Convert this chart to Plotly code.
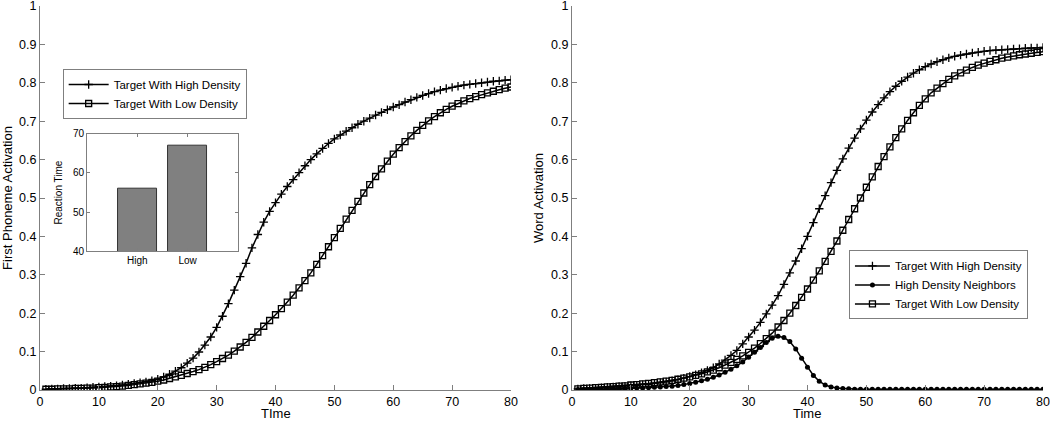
import plotly.graph_objects as go

# time steps
time_steps = list(range(1, 81))

# left panel: first phoneme activation
phoneme_high = [
    0.002, 0.003, 0.003, 0.004, 0.004, 0.005, 0.005, 0.006, 0.007,
    0.008, 0.009, 0.010, 0.011, 0.013, 0.015, 0.017, 0.019, 0.021, 0.024,
    0.028, 0.034, 0.041, 0.049, 0.058, 0.070, 0.083, 0.099, 0.117, 0.138,
    0.163, 0.192, 0.225, 0.260, 0.295, 0.330, 0.370, 0.405, 0.437, 0.465,
    0.488, 0.510, 0.530, 0.548, 0.566, 0.584, 0.600, 0.615, 0.629, 0.642,
    0.654, 0.664, 0.674, 0.683, 0.692, 0.700, 0.708, 0.716, 0.723, 0.730,
    0.737, 0.743, 0.750, 0.756, 0.762, 0.767, 0.772, 0.777, 0.781, 0.785,
    0.788, 0.791, 0.794, 0.796, 0.798, 0.800, 0.802, 0.804, 0.805, 0.807,
    0.808,
]
phoneme_low = [
    0.002, 0.002, 0.003, 0.003, 0.003, 0.004, 0.004, 0.005, 0.005,
    0.006, 0.007, 0.008, 0.009, 0.010, 0.012, 0.014, 0.016, 0.018, 0.020,
    0.023, 0.026, 0.030, 0.034, 0.038, 0.043, 0.048, 0.053, 0.059, 0.066,
    0.074, 0.082, 0.091, 0.101, 0.112, 0.124, 0.137, 0.151, 0.166, 0.181,
    0.196, 0.212, 0.229, 0.247, 0.266, 0.285, 0.305, 0.327, 0.350, 0.373,
    0.397, 0.421, 0.445, 0.468, 0.491, 0.513, 0.535, 0.556, 0.576, 0.596,
    0.614, 0.631, 0.647, 0.662, 0.676, 0.689, 0.701, 0.712, 0.722, 0.731,
    0.739, 0.746, 0.753, 0.759, 0.764, 0.769, 0.774, 0.778, 0.782, 0.786,
    0.789,
]

# right panel: word activation
word_high = [
    0.003, 0.004, 0.004, 0.005, 0.006, 0.007, 0.008, 0.009, 0.010, 0.011,
    0.012, 0.014, 0.015, 0.017, 0.019, 0.021, 0.024, 0.027, 0.031, 0.035,
    0.040, 0.045, 0.051, 0.058, 0.068, 0.078, 0.090, 0.103, 0.120, 0.138,
    0.156, 0.176, 0.198, 0.221, 0.246, 0.275, 0.305, 0.336, 0.368, 0.400,
    0.436, 0.472, 0.506, 0.540, 0.572, 0.602, 0.630, 0.656, 0.680, 0.703,
    0.724, 0.743, 0.761, 0.777, 0.791, 0.804, 0.815, 0.825, 0.834, 0.842,
    0.849, 0.855, 0.860, 0.865, 0.869, 0.872, 0.875, 0.878, 0.880, 0.882,
    0.884, 0.885, 0.886, 0.887, 0.888, 0.889, 0.890, 0.891, 0.891, 0.892,
]
word_neighbors = [
    0.001, 0.001, 0.001, 0.002, 0.002, 0.002, 0.003, 0.003, 0.004, 0.004,
    0.005, 0.005, 0.006, 0.007, 0.008, 0.009, 0.010, 0.012, 0.014, 0.017,
    0.020, 0.024, 0.028, 0.033, 0.039, 0.046, 0.054, 0.063, 0.073, 0.085,
    0.098, 0.111, 0.124, 0.135, 0.140, 0.137, 0.126, 0.107, 0.083, 0.059,
    0.038, 0.023, 0.013, 0.008, 0.005, 0.004, 0.003, 0.002, 0.002, 0.002,
    0.002, 0.002, 0.002, 0.002, 0.002, 0.002, 0.002, 0.002, 0.002, 0.002,
    0.002, 0.002, 0.002, 0.002, 0.002, 0.002, 0.002, 0.002, 0.002, 0.002,
    0.002, 0.002, 0.002, 0.002, 0.002, 0.002, 0.002, 0.002, 0.002, 0.002,
]
word_low = [
    0.003, 0.004, 0.005, 0.006, 0.007, 0.008, 0.009, 0.010, 0.011, 0.013,
    0.014, 0.016, 0.017, 0.019, 0.021, 0.023, 0.025, 0.028, 0.031, 0.034,
    0.038, 0.042, 0.047, 0.052, 0.058, 0.065, 0.072, 0.080, 0.089, 0.098,
    0.109, 0.121, 0.134, 0.148, 0.164, 0.181, 0.200, 0.220, 0.241, 0.263,
    0.286, 0.310, 0.335, 0.361, 0.388, 0.416, 0.444, 0.472, 0.500, 0.528,
    0.555, 0.582, 0.608, 0.633, 0.657, 0.680, 0.702, 0.722, 0.741, 0.758,
    0.774, 0.786, 0.798, 0.809, 0.818, 0.826, 0.833, 0.840, 0.846, 0.851,
    0.856, 0.860, 0.864, 0.867, 0.870, 0.873, 0.875, 0.877, 0.879, 0.881,
]

# inset: reaction times
rt_labels = ["High", "Low"]
rt_pos = [1, 2]
rt_values = [56, 67]

FONT = "Liberation Sans, Arial, sans-serif"
AX = "#7f7f7f"

fig = go.Figure()

plus = dict(symbol="cross-thin", size=6, line=dict(width=1.3, color="black"), color="black")
square = dict(symbol="square-open", size=6, line=dict(width=1.3, color="black"), color="black")
dot = dict(symbol="circle", size=5, color="black")
line = dict(color="black", width=1.5)

fig.add_trace(go.Scatter(x=time_steps, y=phoneme_high, mode="lines+markers", name="Target With High Density",
                         line=line, marker=plus, xaxis="x", yaxis="y", legend="legend"))
fig.add_trace(go.Scatter(x=time_steps, y=phoneme_low, mode="lines+markers", name="Target With Low Density",
                         line=line, marker=square, xaxis="x", yaxis="y", legend="legend"))

fig.add_trace(go.Scatter(x=time_steps, y=word_high, mode="lines+markers", name="Target With High Density",
                         line=line, marker=plus, xaxis="x2", yaxis="y2", legend="legend2"))
fig.add_trace(go.Scatter(x=time_steps, y=word_neighbors, mode="lines+markers", name="High Density Neighbors",
                         line=line, marker=dot, xaxis="x2", yaxis="y2", legend="legend2"))
fig.add_trace(go.Scatter(x=time_steps, y=word_low, mode="lines+markers", name="Target With Low Density",
                         line=line, marker=square, xaxis="x2", yaxis="y2", legend="legend2"))

fig.add_trace(go.Bar(x=rt_pos, y=rt_values, width=0.78,
                     marker=dict(color="#808080", line=dict(color="#333333", width=1)),
                     showlegend=False, xaxis="x3", yaxis="y3"))

axis_common = dict(showline=True, linecolor=AX, linewidth=1, ticks="inside", tickcolor=AX, ticklen=5,
                   showgrid=False, zeroline=False, automargin=False, ticklabeloverflow="allow",
                   tickfont=dict(size=12.5, color="black"))
inset_common = dict(showline=True, linecolor=AX, mirror="ticks", ticks="inside", tickcolor=AX, ticklen=3,
                    showgrid=False, zeroline=False, automargin=False, tickfont=dict(size=10))

fig.update_layout(
    width=1050, height=422,
    margin=dict(l=40, r=7, t=6, b=32),
    paper_bgcolor="white", plot_bgcolor="white",
    font=dict(family=FONT, color="black"),
    xaxis=dict(domain=[0, 0.4696], range=[0, 80], dtick=10, anchor="y", **axis_common),
    yaxis=dict(domain=[0, 1], range=[0, 1], dtick=0.1, anchor="x",
               title=dict(text="First Phoneme Activation", font=dict(size=13), standoff=4), **axis_common),
    xaxis2=dict(domain=[0.5304, 1], range=[0, 80], dtick=10, anchor="y2", **axis_common),
    yaxis2=dict(domain=[0, 1], range=[0, 1], dtick=0.1, anchor="x2",
                title=dict(text="Word Activation", font=dict(size=13), standoff=4), **axis_common),
    xaxis3=dict(domain=[0.0469, 0.1974], range=[0, 3], anchor="y3", tickvals=rt_pos, ticktext=rt_labels,
                **inset_common),
    yaxis3=dict(domain=[0.361, 0.6675], range=[40, 70], anchor="x3", tickvals=[40, 50, 60, 70],
                title=dict(text="Reaction Time", font=dict(size=10), standoff=8), **inset_common),
    legend=dict(x=0.0226, y=0.836, xanchor="left", yanchor="top", bgcolor="white", itemwidth=40,
                bordercolor=AX, borderwidth=1, font=dict(size=11.5), tracegroupgap=0),
    legend2=dict(x=0.985, y=0.3636, xanchor="right", yanchor="top", bgcolor="white", itemwidth=35,
                 bordercolor=AX, borderwidth=1, font=dict(size=11.5), tracegroupgap=0),
    bargap=0,
)

# x axis titles sit just under the tick labels, against the bottom edge as in the original
for xref, text in [("x domain", "TIme"), ("x2 domain", "Time")]:
    fig.add_annotation(text=text, xref=xref, x=0.5, yref="paper", y=-0.0833, yanchor="bottom",
                       showarrow=False, font=dict(size=13), borderpad=0)

# drop the default page margin so the 1050x422 figure fills the window
fig.write_html("out.html", config={"displayModeBar": False},
               post_script="document.body.style.margin='0';")
